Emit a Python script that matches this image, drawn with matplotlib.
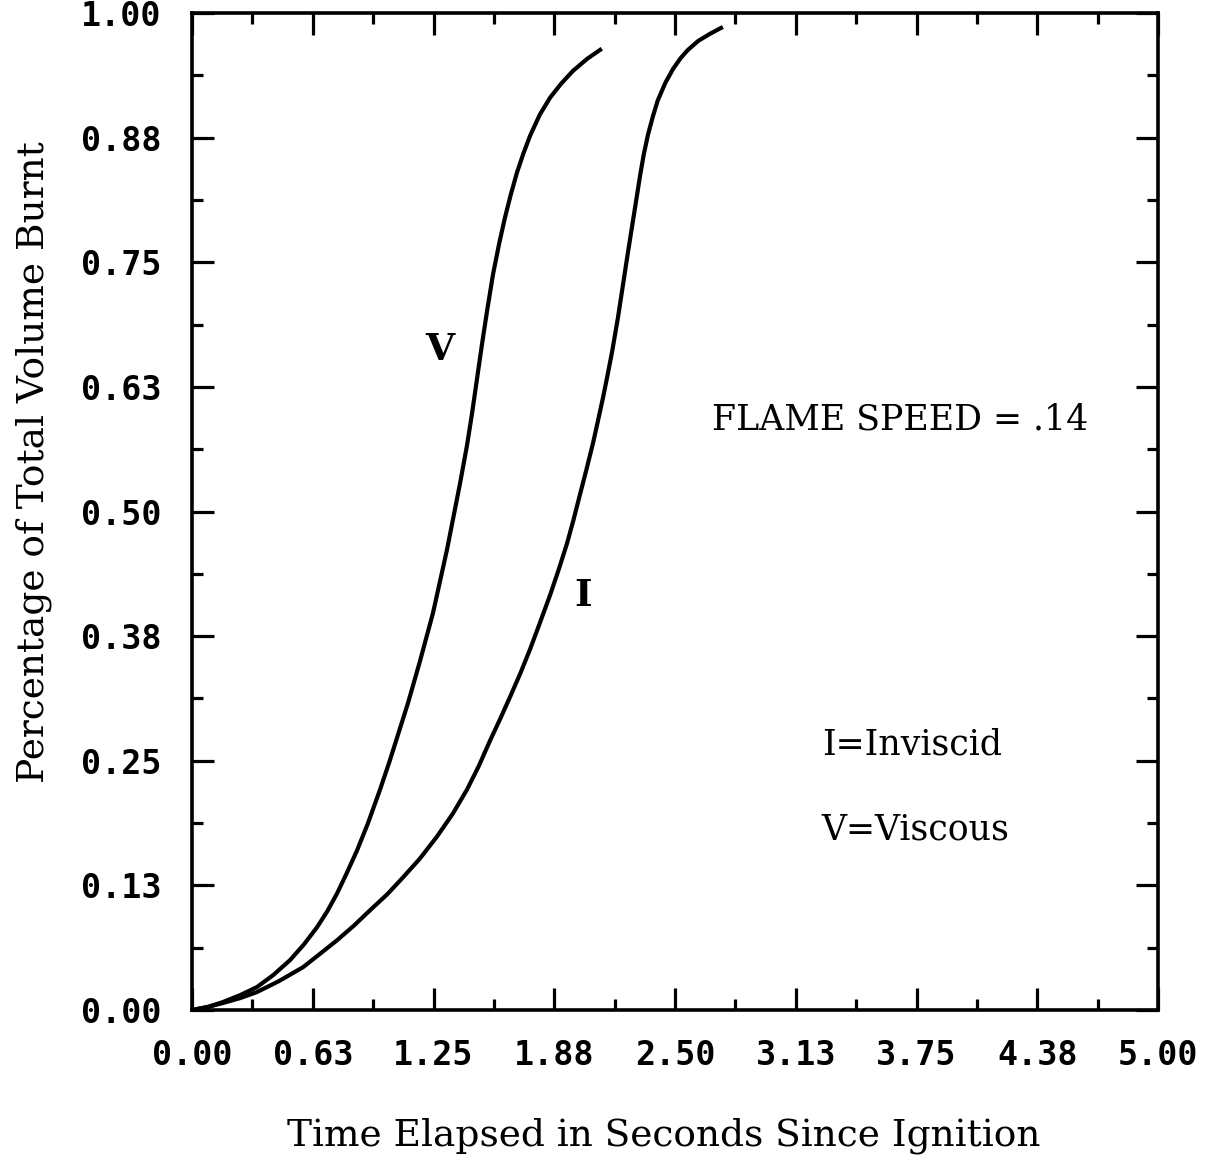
import matplotlib
matplotlib.use("Agg")
import matplotlib.pyplot as plt
import numpy as np

# burn curves
viscous_t = [0.0, 0.08, 0.16, 0.25, 0.336, 0.42, 0.507, 0.58, 0.647, 0.70,
             0.751, 0.80, 0.854, 0.91, 0.973, 1.02, 1.061, 1.118, 1.18, 1.247,
             1.32, 1.387, 1.423, 1.449, 1.475, 1.501, 1.527, 1.558, 1.59, 1.62,
             1.65, 1.682, 1.715, 1.75, 1.80, 1.853, 1.91, 1.972, 2.045, 2.112]
viscous_v = [0.0, 0.003, 0.008, 0.015, 0.023, 0.035, 0.050, 0.066, 0.083, 0.099,
             0.117, 0.137, 0.160, 0.187, 0.221, 0.248, 0.273, 0.308, 0.350, 0.398,
             0.462, 0.528, 0.566, 0.598, 0.633, 0.668, 0.701, 0.738, 0.769, 0.795,
             0.818, 0.840, 0.859, 0.877, 0.898, 0.915, 0.929, 0.942, 0.954, 0.963]

inviscid_t = [0.0, 0.08, 0.16, 0.25, 0.336, 0.45, 0.575, 0.66, 0.751, 0.84,
              0.921, 1.01, 1.092, 1.18, 1.268, 1.35, 1.423, 1.485, 1.542, 1.595,
              1.646, 1.70, 1.75, 1.80, 1.853, 1.90, 1.941, 1.975, 2.008, 2.04,
              2.076, 2.10, 2.127, 2.15, 2.174, 2.19, 2.205, 2.22, 2.235, 2.25,
              2.267, 2.285, 2.303, 2.32, 2.338, 2.36, 2.385, 2.41, 2.45, 2.49,
              2.53, 2.567, 2.62, 2.68, 2.738]
inviscid_v = [0.0, 0.003, 0.007, 0.012, 0.018, 0.029, 0.043, 0.056, 0.070, 0.085,
              0.100, 0.116, 0.133, 0.152, 0.174, 0.197, 0.221, 0.245, 0.270, 0.292,
              0.314, 0.338, 0.362, 0.388, 0.416, 0.443, 0.468, 0.492, 0.517, 0.541,
              0.569, 0.590, 0.614, 0.636, 0.660, 0.678, 0.695, 0.714, 0.733, 0.752,
              0.773, 0.795, 0.817, 0.838, 0.858, 0.878, 0.896, 0.912, 0.930, 0.944,
              0.955, 0.963, 0.972, 0.979, 0.985]

xticks = [0.0, 0.625, 1.25, 1.875, 2.5, 3.125, 3.75, 4.375, 5.0]
xtick_labels = ["0.00", "0.63", "1.25", "1.88", "2.50", "3.13", "3.75", "4.38", "5.00"]
yticks = [0.0, 0.125, 0.25, 0.375, 0.5, 0.625, 0.75, 0.875, 1.0]
ytick_labels = ["0.00", "0.13", "0.25", "0.38", "0.50", "0.63", "0.75", "0.88", "1.00"]

serif = "DejaVu Serif"
mono = "DejaVu Sans Mono"

fig = plt.figure(figsize=(12.27, 11.6), dpi=100)
ax = fig.add_axes([0.1565, 0.1293, 0.7873, 0.8595])

ax.plot(viscous_t, viscous_v, color="black", lw=3.0)
ax.plot(inviscid_t, inviscid_v, color="black", lw=3.0)

ax.set_xlim(0, 5)
ax.set_ylim(0, 1)

ax.set_xticks(xticks)
ax.set_xticklabels(xtick_labels, fontfamily=mono, fontweight="bold", fontsize=24)
ax.set_yticks(yticks)
ax.set_yticklabels(ytick_labels, fontfamily=mono, fontweight="bold", fontsize=24)
ax.set_xticks(np.arange(0.3125, 5, 0.625), minor=True)
ax.set_yticks(np.arange(0.0625, 1, 0.125), minor=True)

ax.tick_params(which="both", direction="in", top=True, right=True, width=2.3)
ax.tick_params(which="major", length=16)
ax.tick_params(which="minor", length=8)
ax.tick_params(axis="x", which="major", pad=21)
ax.tick_params(axis="y", which="major", pad=22)
for s in ax.spines.values():
    s.set_linewidth(2.6)

ax.set_xlabel("Time Elapsed in Seconds Since Ignition", fontfamily=serif,
              fontsize=27)
ax.set_ylabel("Percentage of Total Volume Burnt", fontfamily=serif,
              fontsize=27)
ax.xaxis.set_label_coords(0.488, -0.108)
ax.yaxis.set_label_coords(-0.145, 0.55)

ax.text(1.284, 0.662, "V", fontfamily=serif, fontsize=27, fontweight="bold",
        ha="center", va="center")
ax.text(2.024, 0.416, "I", fontfamily=serif, fontsize=27, fontweight="bold",
        ha="center", va="center")
ax.text(2.69, 0.592, "FLAME SPEED = .14", fontfamily=serif, fontsize=25,
        ha="left", va="center")
ax.text(3.26, 0.266, "I=Inviscid", fontfamily=serif, fontsize=25,
        ha="left", va="center")
ax.text(3.26, 0.181, "V=Viscous", fontfamily=serif, fontsize=25,
        ha="left", va="center")

fig.savefig("out.png", dpi=100)
